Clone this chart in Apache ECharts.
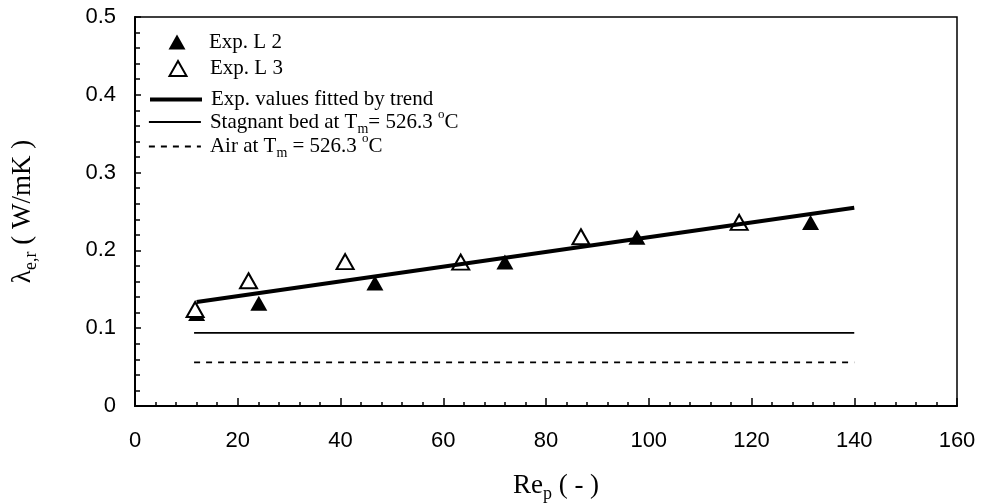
<!DOCTYPE html>
<html>
<head>
<meta charset="UTF-8">
<script src="https://cdn.jsdelivr.net/npm/echarts@6/dist/echarts.min.js"></script>
<style>
  html, body { margin: 0; padding: 0; background: #fff; }
  #chart { width: 985px; height: 503px; }
</style>
</head>
<body>
<div id="chart"></div>
<script>
    // data
    let l2_x = [12.0, 24.1, 46.7, 72.0, 97.7, 131.5];
    let l2_y = [0.119, 0.132, 0.158, 0.185, 0.217, 0.236];
    let l3_x = [11.7, 22.1, 40.9, 63.4, 86.8, 117.6];
    let l3_y = [0.124, 0.161, 0.1855, 0.185, 0.2175, 0.236];
    let trend_x = [12, 140];
    let trend_y = [0.1336, 0.2548];
    let stagnant_x = [11.5, 140];
    let stagnant_y = [0.094, 0.094];
    let air_x = [11.5, 140];
    let air_y = [0.056, 0.056];

    let names = ['Exp. L 2', 'Exp. L 3', 'Exp. values fitted by trend',
        'Stagnant bed at Tm= 526.3 oC', 'Air at Tm = 526.3 oC'];
    let labels = {};
    labels[names[0]] = '{t|Exp. L 2}';
    labels[names[1]] = '{t|Exp. L 3}';
    labels[names[2]] = '{t|Exp. values fitted by trend}';
    labels[names[3]] = '{t|Stagnant bed at T}{sub|m}{t|= 526.3 }{sup|o}{t|C}';
    labels[names[4]] = '{t|Air at T}{sub|m}{t| = 526.3 }{sup|o}{t|C}';

    function pairs(xs, ys){
        return xs.map(function(x, i){ return [x, ys[i]]; });
    }

    let serif = 'Liberation Serif';
    let sans = 'Liberation Sans';

    let rich = {
        t: { fontFamily: serif, fontSize: 21, color: '#000', lineHeight: 28 },
        sub: { fontFamily: serif, fontSize: 14, color: '#000', lineHeight: 14, verticalAlign: 'bottom' },
        sup: { fontFamily: serif, fontSize: 13, color: '#000', lineHeight: 13, verticalAlign: 'top' },
        g4: { width: 4 },
        g18: { width: 18.5 }
    };
    // bigger text for the axis names
    let rich_name = {
        t: { fontFamily: serif, fontSize: 27, color: '#000', lineHeight: 34 },
        sub: { fontFamily: serif, fontSize: 18, color: '#000', lineHeight: 18, verticalAlign: 'bottom' }
    };

    function legend(name, top, tri, line_style){
        let l = {
            show: true,
            left: tri ? 168.5 : 148,
            top: top - 14,
            padding: 0,
            selectedMode: false,
            itemWidth: tri ? 17 : 52,
            itemHeight: tri ? 15 : 14,
            data: [name],
            formatter: function(n){ return (tri ? '{g18|}' : '{g4|}') + labels[n]; },
            textStyle: { fontFamily: serif, fontSize: 21, color: '#000', lineHeight: 28, rich: rich }
        };
        if ( line_style ){
            l.lineStyle = line_style;
            l.itemStyle = { opacity: 0 };
        }
        return l;
    }

    let myChart = echarts.init(document.getElementById('chart'));
    let option = {
        animation: false,
        backgroundColor: '#fff',
        grid: {
            left: 135,
            right: 28,
            top: 17,
            bottom: 97,
            outerBoundsMode: 'none',
            containLabel: false,
            show: true,
            borderColor: '#000',
            borderWidth: 1.5
        },
        legend: [
            legend(names[0], 42, true),
            legend(names[1], 68.5, true),
            legend(names[2], 99.5, false, { color: '#000', width: 4, type: 'solid' }),
            legend(names[3], 122, false, { color: '#000', width: 1.8, type: 'solid' }),
            legend(names[4], 146.5, false, { color: '#000', width: 1.8, type: [6, 6] })
        ],
        xAxis: {
            type: 'value',
            min: 0,
            max: 160,
            interval: 20,
            name: '{t|Re}{sub|p}{t| ( - )}',
            nameLocation: 'middle',
            nameGap: 63,
            nameTextStyle: { padding: [0, 0, 0, 20], rich: rich_name },
            axisLine: { lineStyle: { color: '#000', width: 2 } },
            axisTick: { inside: true, length: 8, lineStyle: { color: '#000', width: 1.5 } },
            minorTick: { show: true, splitNumber: 5, length: 4, lineStyle: { color: '#000', width: 1.5 } },
            splitLine: { show: false },
            axisLabel: { margin: 24, fontFamily: sans, fontSize: 22, color: '#000' }
        },
        yAxis: {
            type: 'value',
            min: 0,
            max: 0.5,
            interval: 0.1,
            name: '{t|λ}{sub|e,r}{t| ( W/mK )}',
            nameLocation: 'middle',
            nameRotate: 90,
            nameGap: 95,
            nameTextStyle: { rich: rich_name },
            axisLine: { lineStyle: { color: '#000', width: 2 } },
            axisTick: { inside: true, length: 6, lineStyle: { color: '#000', width: 1.5 } },
            minorTick: { show: true, splitNumber: 5, length: 5, lineStyle: { color: '#000', width: 1.5 } },
            splitLine: { show: false },
            axisLabel: { margin: 19, fontFamily: sans, fontSize: 22, color: '#000' }
        },
        series: [
            {
                name: names[0],
                type: 'scatter',
                symbol: 'triangle',
                symbolSize: [17, 15],
                itemStyle: { color: '#000', opacity: 1 },
                data: pairs(l2_x, l2_y)
            },
            {
                name: names[1],
                type: 'scatter',
                symbol: 'triangle',
                symbolSize: [17, 15],
                itemStyle: { color: '#fff', borderColor: '#000', borderWidth: 2, opacity: 1 },
                data: pairs(l3_x, l3_y)
            },
            {
                name: names[2],
                type: 'line',
                symbol: 'none',
                color: '#000',
                lineStyle: { color: '#000', width: 4 },
                data: pairs(trend_x, trend_y)
            },
            {
                name: names[3],
                type: 'line',
                symbol: 'none',
                color: '#000',
                lineStyle: { color: '#000', width: 1.8 },
                data: pairs(stagnant_x, stagnant_y)
            },
            {
                name: names[4],
                type: 'line',
                symbol: 'none',
                color: '#000',
                lineStyle: { color: '#000', width: 1.8, type: [6, 6] },
                data: pairs(air_x, air_y)
            }
        ]
    };
    myChart.setOption(option);
</script>
</body>
</html>
